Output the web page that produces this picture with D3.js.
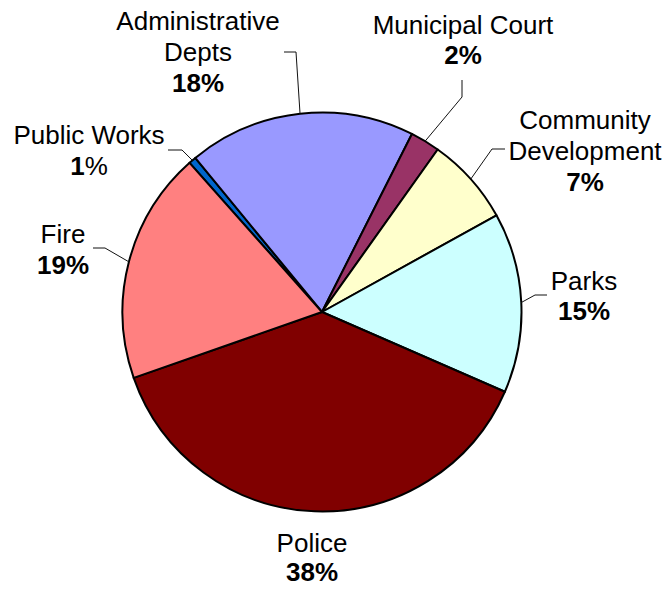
<!DOCTYPE html>
<html>
<head>
<meta charset="utf-8">
<script src="https://cdn.jsdelivr.net/npm/d3@7"></script>
<style>
  html, body { margin: 0; padding: 0; background: #fff; }
  svg { display: block; font-family: "Liberation Sans", Arial, sans-serif; }
</style>
</head>
<body>
<svg id="chart" width="665" height="589"></svg>
<script>
// Departments, listed clockwise from the Public Works sliver
const departments = ["Public Works", "Administrative Depts", "Municipal Court",
                     "Community Development", "Parks", "Police", "Fire"];
// Share of the budget (percent)
const shares = [0.6, 18.4, 2.4, 7.1, 14.6, 38.1, 18.8];
const sliceColors = ["#0066CC", "#9999FF", "#993366", "#FFFFCC", "#CCFFFF", "#800000", "#FF8080"];

// Label text lines per department
const labelLines = [["Public Works"], ["Administrative", "Depts"], ["Municipal Court"],
                    ["Community", "Development"], ["Parks"], ["Police"], ["Fire"]];

// Label placement: text centre x, first baseline y, line gap, elbow of the leader line
const labelLayout = [
  { x: 89,  y: 144, gap: 31, elbow: [[168, 150], [182, 150]] },
  { x: 198, y: 30,  gap: 31, elbow: [[284, 52], [296, 52]] },
  { x: 463, y: 34,  gap: 30, elbow: [[462, 80], [462, 97]] },
  { x: 585, y: 129, gap: 31, elbow: [[505, 149], [492, 149]] },
  { x: 584, y: 290, gap: 30, elbow: [[547, 295], [535, 295]] },
  { x: 312, y: 552, gap: 29, elbow: null },
  { x: 63,  y: 243, gap: 31, elbow: [[93, 248], [105, 248]] }
];

const cx = 322, cy = 312, radius = 199.5;
const fontSize = 26;
const startDeg = -41.6;

const svg = d3.select("#chart");
const g = svg.append("g").attr("transform", `translate(${cx},${cy})`);

const total = d3.sum(shares);
const pie = d3.pie().sort(null).value(d => d)
  .startAngle(startDeg * Math.PI / 180)
  .endAngle(startDeg * Math.PI / 180 + 2 * Math.PI);
const arcs = pie(shares);
const arc = d3.arc().innerRadius(0).outerRadius(radius);

g.selectAll("path.slice")
  .data(arcs)
  .join("path")
  .attr("class", "slice")
  .attr("d", arc)
  .attr("fill", (d, i) => sliceColors[i])
  .attr("stroke", "#000")
  .attr("stroke-width", 2)
  .attr("stroke-linejoin", "round");

// Leader lines: from the arc midpoint out to the label elbow
const leaders = svg.append("g")
  .attr("fill", "none")
  .attr("stroke", "#111")
  .attr("stroke-width", 1);

arcs.forEach((d, i) => {
  const lay = labelLayout[i];
  if (!lay.elbow) return;
  const mid = (d.startAngle + d.endAngle) / 2;
  const px = cx + radius * Math.sin(mid);
  const py = cy - radius * Math.cos(mid);
  const pts = [...lay.elbow, [px, py]];
  leaders.append("path").attr("d", d3.line()(pts));
});

// Labels: name lines then a bold percentage
const labels = svg.append("g")
  .attr("font-size", fontSize)
  .attr("fill", "#000")
  .attr("text-anchor", "middle");

arcs.forEach((d, i) => {
  const lay = labelLayout[i];
  const lines = labelLines[i];
  const t = labels.append("text").attr("x", lay.x).attr("y", lay.y);
  lines.forEach((ln, j) => {
    t.append("tspan").attr("x", lay.x).attr("dy", j === 0 ? 0 : lay.gap).text(ln);
  });
  const pct = Math.round(d.data / total * 100);
  const pctLine = t.append("tspan").attr("x", lay.x).attr("dy", lay.gap);
  pctLine.append("tspan").attr("font-weight", "bold").text(pct);
  // The Public Works percent sign is set in the regular weight
  pctLine.append("tspan").attr("font-weight", departments[i] === "Public Works" ? "normal" : "bold").text("%");
});
</script>
</body>
</html>
